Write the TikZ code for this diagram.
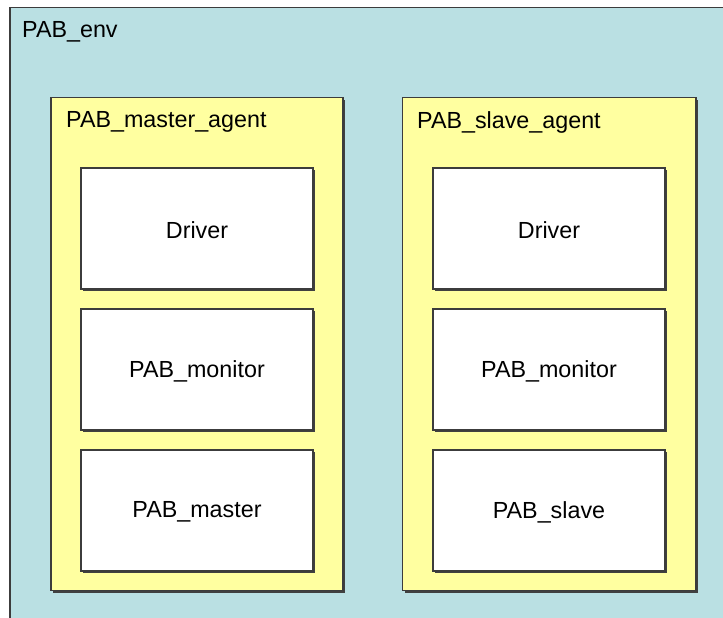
\documentclass[tikz,border=0pt]{standalone}
\usepackage{fontspec}
\setmainfont{Liberation Sans}
\usetikzlibrary{shadows}
\definecolor{envbg}{RGB}{186,224,227}
\definecolor{agentbg}{RGB}{255,255,160}
\definecolor{edgec}{RGB}{60,60,60}
\begin{document}
\begin{tikzpicture}[x=1pt,y=-1pt,
  box/.style={draw=edgec, line width=1.5pt, rectangle, inner sep=0pt, outer sep=0pt, anchor=north west},
  shad/.style={drop shadow={shadow xshift=2.4pt, shadow yshift=-2.4pt, fill=black!75, opacity=1}},
  agent/.style={box, shad, fill=agentbg, minimum height=493pt},
  comp/.style={box, shad, fill=white, minimum width=232pt, minimum height=121pt},
  comptext/.style={inner sep=0pt, font=\fontsize{23.3}{27}\selectfont},
  lbl/.style={anchor=west, inner sep=0pt, font=\fontsize{23.3}{27}\selectfont}]
\useasboundingbox (0,0) rectangle (723,618);
\clip (0,0) rectangle (723,618);
\fill[white] (0,0) rectangle (723,618);
\node[box, fill=envbg, minimum width=740pt, minimum height=640pt] (env) at (10,7.5) {};
\node[lbl] (envlbl) at (22,32) {PAB\_env};
% master agent
\node[agent, minimum width=292pt] (magent) at (51,97.5) {};
\node[lbl] (magentlbl) at (66,122) {PAB\_master\_agent};
\node[comp] (mdrv) at (81,168) {};
\node[comp] (mmon) at (81,309) {};
\node[comp] (mmas) at (81,450) {};
\node[comptext] at ([yshift=-1.5pt]mdrv.center) {Driver};
\node[comptext] at ([yshift=-1.5pt]mmon.center) {PAB\_monitor};
\node[comptext] at ([yshift=-1.5pt]mmas.center) {PAB\_master};
% slave agent
\node[agent, minimum width=293.5pt] (sagent) at (402.5,97.5) {};
\node[lbl] (sagentlbl) at (417,122) {PAB\_slave\_agent};
\node[comp] (sdrv) at (433,168) {};
\node[comp] (smon) at (433,309) {};
\node[comp] (ssla) at (433,450) {};
\node[comptext] at ([yshift=-1.5pt]sdrv.center) {Driver};
\node[comptext] at ([yshift=-1.5pt]smon.center) {PAB\_monitor};
\node[comptext] at ([yshift=-1.5pt]ssla.center) {PAB\_slave};
\end{tikzpicture}
\end{document}
